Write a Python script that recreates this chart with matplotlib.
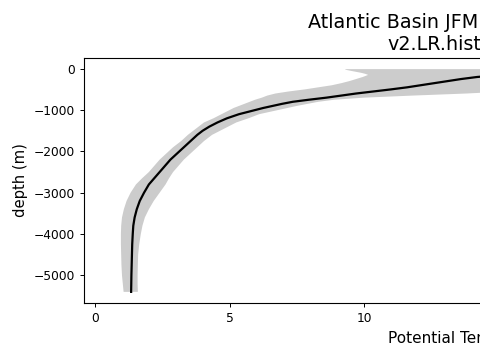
import numpy as np
import matplotlib
matplotlib.use("Agg")
import matplotlib.pyplot as plt

# depth levels (m, positive down) and temperature profile
depth = [10, 20, 30, 50, 75, 100, 125, 150, 200, 250, 300, 350, 400, 450,
         500, 550, 600, 650, 700, 750, 800, 850, 900, 950, 1000, 1100, 1200,
         1300, 1400, 1500, 1600, 1750, 1900, 2050, 2200, 2350, 2500, 2650,
         2800, 3000, 3200, 3400, 3600, 3800, 4000, 4250, 4500, 4750, 5000,
         5200, 5400]
temp_mean = [18.8, 18.5, 18.2, 17.6, 16.9, 16.2, 15.6, 15.1, 14.2, 13.6,
             13.1, 12.6, 12.1, 11.6, 11.0, 10.35, 9.7, 9.15, 8.6, 7.95, 7.35,
             6.95, 6.6, 6.25, 5.95, 5.35, 4.9, 4.55, 4.25, 4.0, 3.8, 3.55,
             3.3, 3.05, 2.8, 2.6, 2.4, 2.2, 2.0, 1.82, 1.66, 1.55, 1.47,
             1.42, 1.40, 1.38, 1.37, 1.36, 1.35, 1.345, 1.34]
temp_lo = [9.3, 9.3, 9.35, 9.5, 9.7, 9.9, 10.05, 10.15, 9.95, 9.7, 9.45,
           9.15, 8.8, 8.3, 7.8, 7.2, 6.7, 6.4, 6.2, 5.95, 5.75, 5.55, 5.35,
           5.15, 5.0, 4.7, 4.4, 4.05, 3.85, 3.65, 3.45, 3.2, 2.9, 2.65, 2.4,
           2.2, 2.0, 1.75, 1.52, 1.32, 1.17, 1.07, 1.0, 0.97, 0.96, 0.96,
           0.97, 0.98, 1.0, 1.03, 1.06]
temp_hi = [28.4, 28.0, 27.5, 26.6, 25.5, 24.5, 23.7, 23.0, 21.5, 20.5, 19.5,
           18.6, 17.8, 17.1, 16.5, 15.3, 13.8, 11.8, 10.0, 8.9, 8.3, 7.9,
           7.5, 7.15, 6.8, 6.1, 5.7, 5.25, 4.95, 4.65, 4.35, 4.05, 3.8, 3.55,
           3.3, 3.1, 2.9, 2.75, 2.62, 2.4, 2.18, 2.0, 1.85, 1.76, 1.7, 1.64,
           1.6, 1.59, 1.58, 1.58, 1.59]

title = "Atlantic Basin JFM Temperature Profile\nv2.LR.historical_0101"

z = -np.array(depth)

fig = plt.figure(figsize=(4.8, 3.6), dpi=100)
# the original figure is wider; only its left part is shown
ax = fig.add_axes([84 / 480, 57 / 360, 812 / 480, 245 / 360])
ax.fill_betweenx(z, temp_lo, temp_hi, color="#cccccc", linewidth=0)
ax.plot(temp_mean, z, color="black", linewidth=1.6)
ax.set_xticks([0, 5, 10, 15, 20, 25])
ax.set_ylabel("depth (m)", fontsize=10.6)
ax.set_xlabel("Potential Temperature (\u00b0C)", fontsize=11)
ax.set_title(title, fontsize=13.8)
ax.tick_params(labelsize=8.8, width=0.7, length=3)
for s in ax.spines.values():
    s.set_linewidth(0.8)

plt.savefig("out.png", dpi=100)
